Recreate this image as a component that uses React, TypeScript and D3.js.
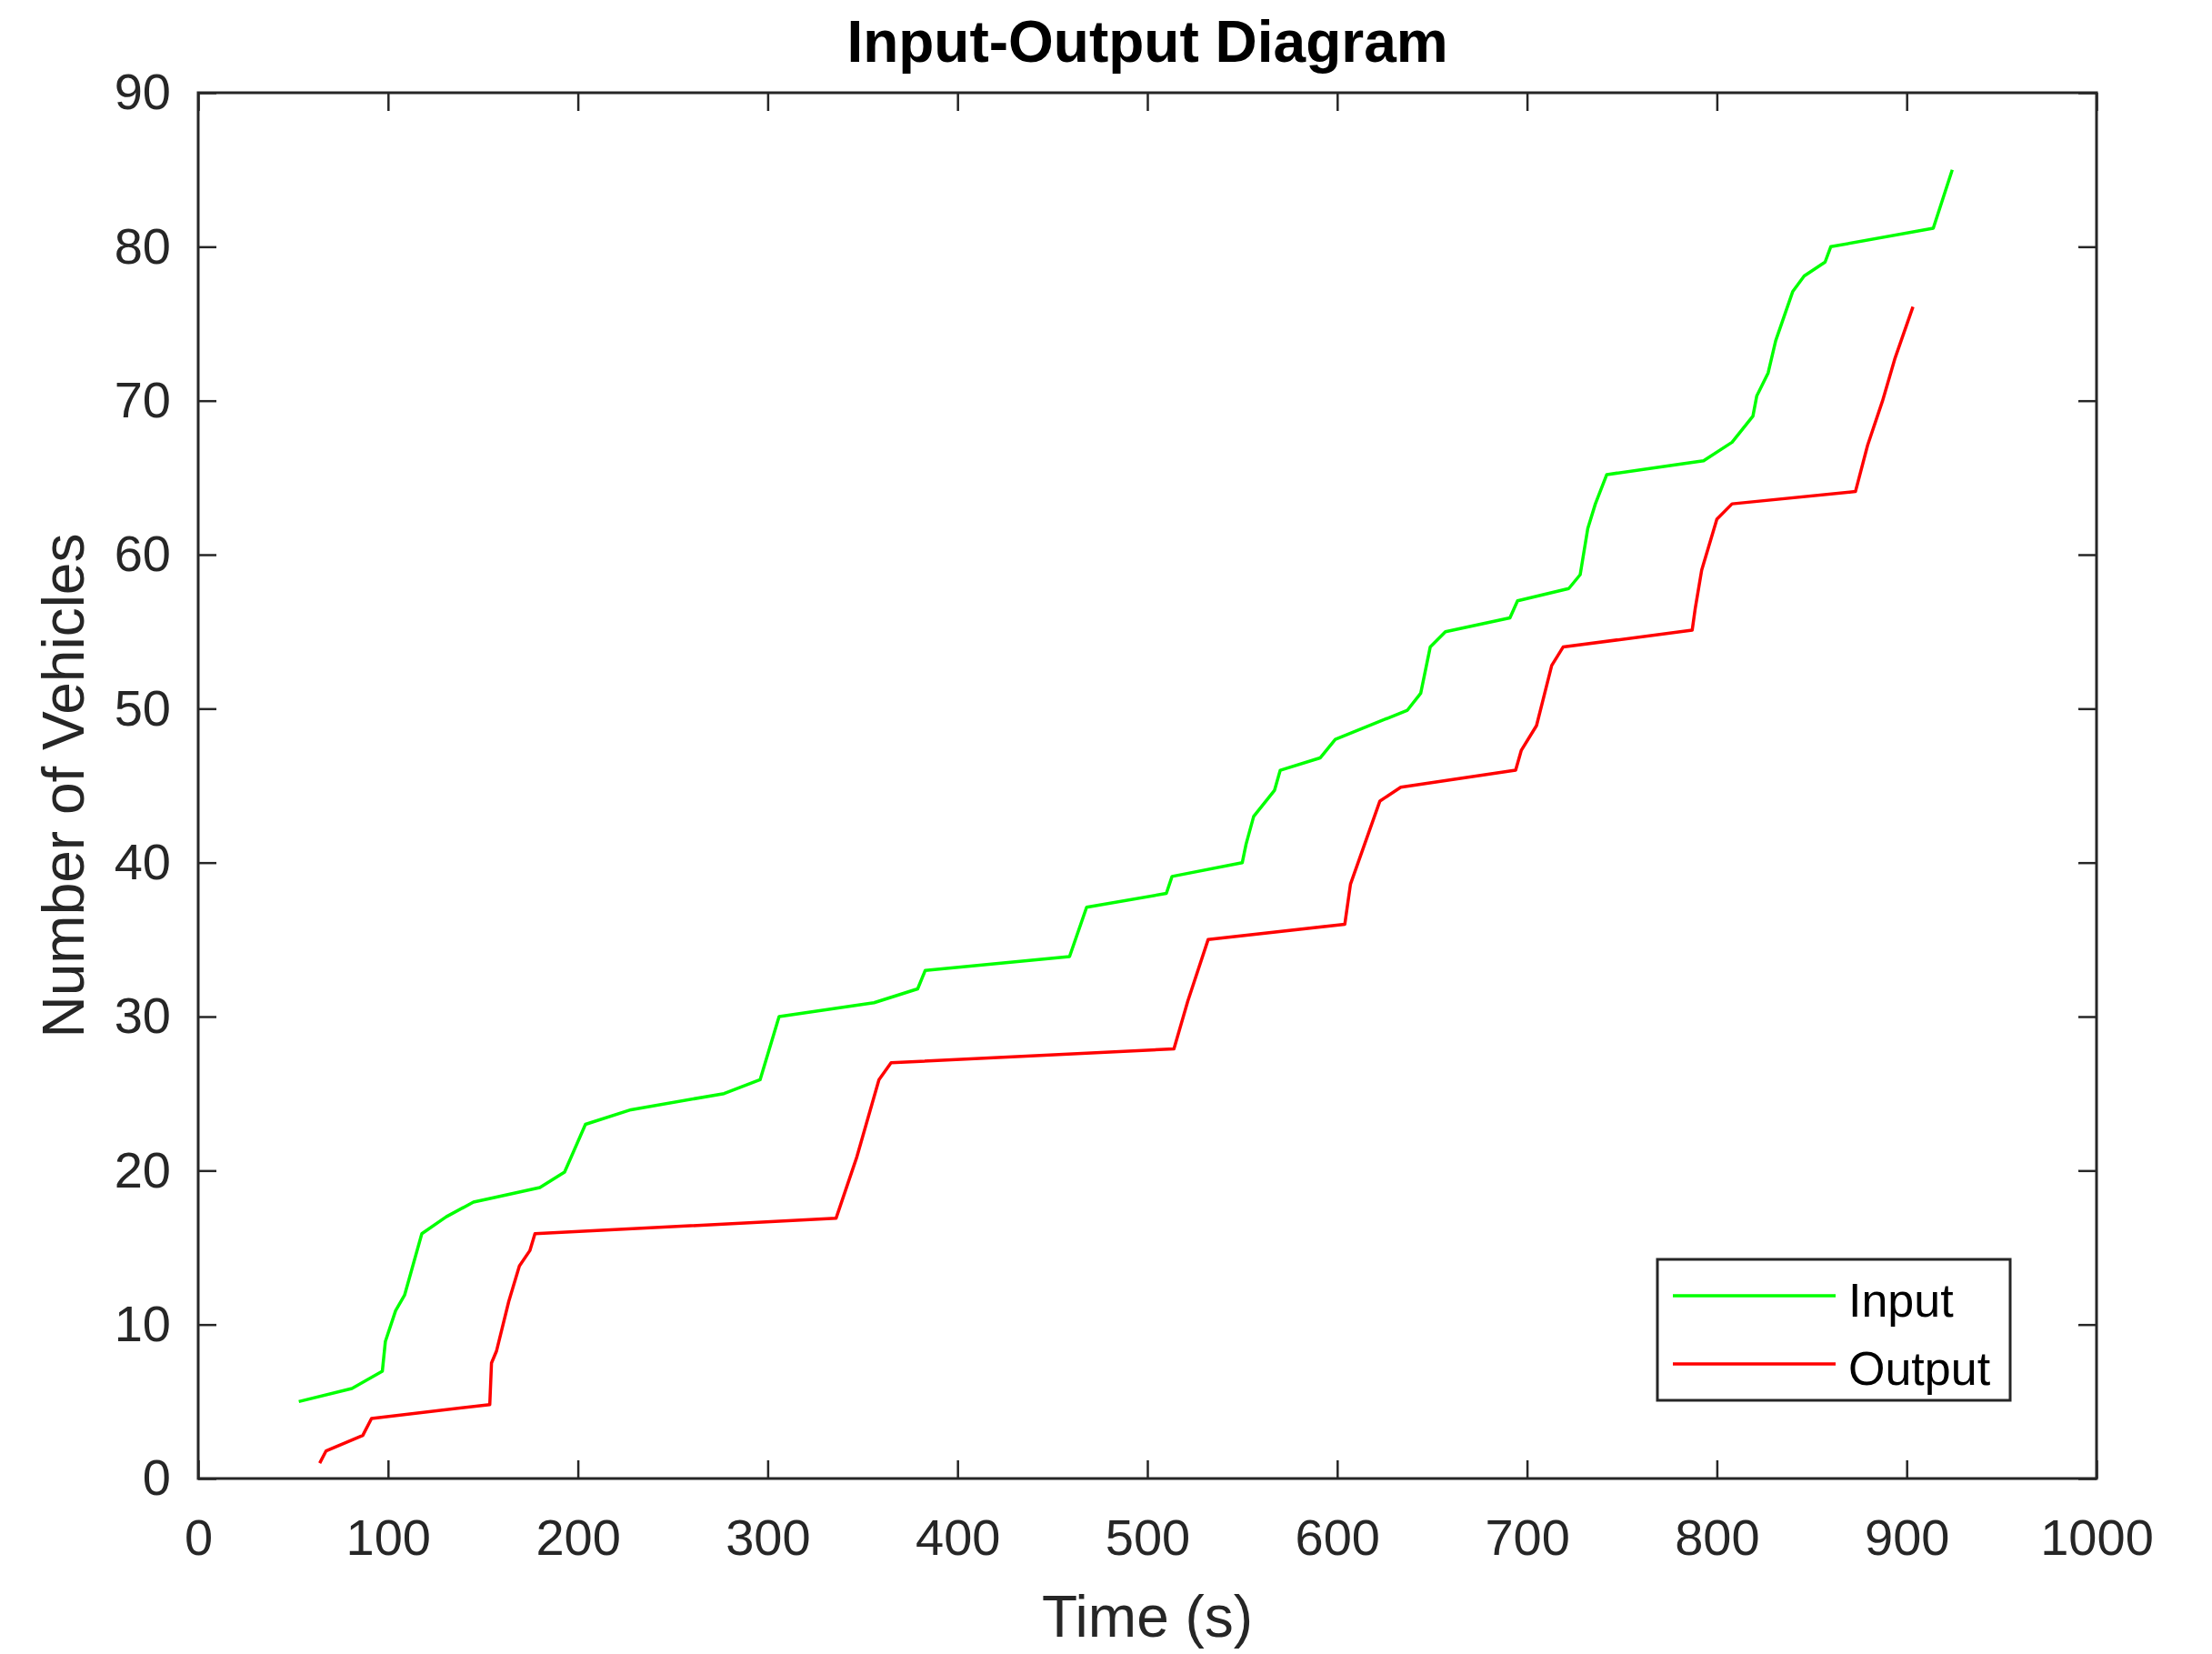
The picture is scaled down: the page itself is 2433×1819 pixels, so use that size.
import React, { useRef, useEffect } from "react";
import * as d3 from "d3";

// cumulative vehicle counts
const inputTime = [
  53, 81, 97, 98.6, 104, 108.7, 117.8, 130.7, 145, 156, 180, 193, 204, 228,
  277, 296, 306, 356, 379, 383, 459, 468, 510, 513, 550, 552, 556, 567, 570,
  591, 599, 637, 644, 649, 657, 691, 695, 722, 728, 732, 736, 742, 793, 808,
  819, 821, 827, 831, 840, 846, 857, 860, 914, 924,
];
const inputCount = [
  5, 5.85, 6.97, 8.9, 10.9, 11.9, 15.9, 17.0, 17.95, 18.25, 18.9, 19.9, 23.0,
  23.95, 25.0, 25.9, 30.0, 30.9, 31.8, 33.0, 33.9, 37.1, 38.0, 39.1, 40.0,
  41.2, 43.0, 44.7, 46.0, 46.8, 48.0, 49.9, 51.0, 54.0, 55.0, 55.9, 57.0,
  57.8, 58.7, 61.7, 63.3, 65.2, 66.1, 67.3, 69.0, 70.3, 71.8, 73.9, 77.1,
  78.1, 79.0, 80.0, 81.2, 85.0,
];
const outputTime = [
  64, 67.4, 86.7, 91.3, 153.6, 154.5, 157.2, 163.6, 169.2, 174.7, 177.4, 336,
  347, 358.6, 365, 514, 521.3, 532, 604, 607, 622.5, 633.5, 694, 697, 705, 713,
  719, 787, 788.6, 792, 800, 808, 873, 879.4, 887.3, 893.7, 903.3,
];
const outputCount = [
  1, 1.8, 2.8, 3.9, 4.8, 7.5, 8.3, 11.5, 13.8, 14.8, 15.9, 16.9, 20.9, 25.9,
  27.0, 27.9, 31.0, 35.0, 36.0, 38.6, 44.0, 44.9, 46.0, 47.3, 48.9, 52.8, 54.0,
  55.1, 56.5, 59.0, 62.3, 63.3, 64.1, 67.1, 70.0, 72.7, 76.1,
];
const xTicks = [0, 100, 200, 300, 400, 500, 600, 700, 800, 900, 1000];
const yTicks = [0, 10, 20, 30, 40, 50, 60, 70, 80, 90];
const seriesNames = ["Input", "Output"];
const seriesColors = ["#00ff00", "#ff0000"];

const width = 2433;
const height = 1819;
const font = "'Liberation Sans', Arial, Helvetica, sans-serif";
const ink = "#262626";

const App = () => {
  const container = useRef<SVGSVGElement>(null);

  useEffect(() => {
    const svg = d3.select(container.current);
    svg.selectAll("*").remove();

    const x = d3.scaleLinear().domain([0, 1000]).range([218, 2306]);
    const y = d3.scaleLinear().domain([0, 90]).range([1626, 102]);

    svg
      .append("rect")
      .attr("width", width)
      .attr("height", height)
      .attr("fill", "#fff");

    // the two curves
    const line = d3
      .line<[number, number]>()
      .x((d) => x(d[0]))
      .y((d) => y(d[1]));

    const series = [
      d3.zip(inputTime, inputCount) as [number, number][],
      d3.zip(outputTime, outputCount) as [number, number][],
    ];

    svg
      .selectAll(".series")
      .data(series)
      .enter()
      .append("path")
      .attr("class", "series")
      .attr("d", (d) => line(d))
      .attr("fill", "none")
      .attr("stroke", (d, i) => seriesColors[i])
      .attr("stroke-width", 3.5)
      .attr("stroke-linejoin", "round");

    // axes, ticks pointing inward on all four sides
    const styleAxis = (g: any) => {
      g.attr("font-family", font).attr("font-size", 56);
      g.select(".domain").remove();
      g.selectAll("line").attr("stroke", ink).attr("stroke-width", 2.5);
      g.selectAll("text").attr("fill", ink);
    };

    svg
      .append("g")
      .attr("transform", `translate(0, ${y(0)})`)
      .call(
        d3
          .axisBottom(x)
          .tickValues(xTicks)
          .tickSizeInner(-20)
          .tickSizeOuter(0)
          .tickPadding(44)
          .tickFormat(d3.format("d"))
      )
      .call(styleAxis);

    svg
      .append("g")
      .attr("transform", `translate(0, ${y(90)})`)
      .call(
        d3
          .axisTop(x)
          .tickValues(xTicks)
          .tickSizeInner(-20)
          .tickSizeOuter(0)
          .tickFormat(() => "")
      )
      .call(styleAxis);

    svg
      .append("g")
      .attr("transform", `translate(${x(0)}, 0)`)
      .call(
        d3
          .axisLeft(y)
          .tickValues(yTicks)
          .tickSizeInner(-20)
          .tickSizeOuter(0)
          .tickPadding(30)
          .tickFormat(d3.format("d"))
      )
      .call(styleAxis);

    svg
      .append("g")
      .attr("transform", `translate(${x(1000)}, 0)`)
      .call(
        d3
          .axisRight(y)
          .tickValues(yTicks)
          .tickSizeInner(-20)
          .tickSizeOuter(0)
          .tickFormat(() => "")
      )
      .call(styleAxis);

    // frame
    svg
      .append("rect")
      .attr("x", x(0))
      .attr("y", y(90))
      .attr("width", x(1000) - x(0))
      .attr("height", y(0) - y(90))
      .attr("fill", "none")
      .attr("stroke", ink)
      .attr("stroke-width", 3);

    // title and labels
    svg
      .append("text")
      .attr("x", (x(0) + x(1000)) / 2)
      .attr("y", 68)
      .attr("text-anchor", "middle")
      .attr("font-family", font)
      .attr("font-weight", "bold")
      .attr("font-size", 64)
      .attr("fill", "#000")
      .text("Input-Output Diagram");

    svg
      .append("text")
      .attr("x", (x(0) + x(1000)) / 2)
      .attr("y", 1800)
      .attr("text-anchor", "middle")
      .attr("font-family", font)
      .attr("font-size", 64)
      .attr("fill", ink)
      .text("Time (s)");

    svg
      .append("text")
      .attr(
        "transform",
        `translate(92, ${(y(0) + y(90)) / 2}) rotate(-90)`
      )
      .attr("text-anchor", "middle")
      .attr("font-family", font)
      .attr("font-size", 64)
      .attr("fill", ink)
      .text("Number of Vehicles");

    // legend
    const legend = svg.append("g").attr("transform", "translate(1823, 1385)");

    legend
      .append("rect")
      .attr("width", 388)
      .attr("height", 155)
      .attr("fill", "#fff")
      .attr("stroke", ink)
      .attr("stroke-width", 3);

    legend
      .selectAll("line")
      .data(seriesNames)
      .enter()
      .append("line")
      .attr("x1", 17)
      .attr("x2", 196)
      .attr("y1", (d, i) => 40 + i * 75)
      .attr("y2", (d, i) => 40 + i * 75)
      .attr("stroke", (d, i) => seriesColors[i])
      .attr("stroke-width", 3.5);

    legend
      .selectAll("text")
      .data(seriesNames)
      .enter()
      .append("text")
      .attr("x", 210)
      .attr("y", (d, i) => 40 + i * 75 + 23)
      .attr("font-family", font)
      .attr("font-size", 52)
      .attr("fill", "#000")
      .text((d) => d);
  }, []);

  return (
    <svg
      ref={container}
      width={width}
      height={height}
      style={{ position: "absolute", left: 0, top: 0 }}
    />
  );
};

export default App;
